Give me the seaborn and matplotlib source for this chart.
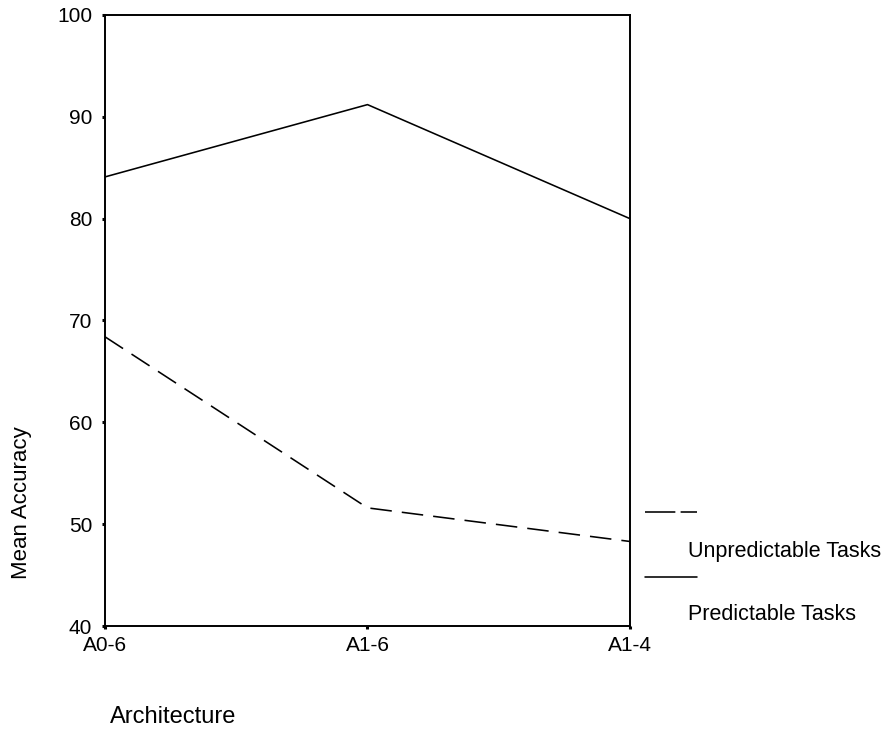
import matplotlib
matplotlib.use("Agg")
import matplotlib.pyplot as plt
from matplotlib.lines import Line2D
import seaborn as sns
import pandas as pd

architectures = ["A0-6", "A1-6", "A1-4"]
unpredictable = [68.4, 51.6, 48.3]
predictable = [84.1, 91.2, 80.0]
series_names = ["Unpredictable Tasks", "Predictable Tasks"]
y_ticks = [40, 50, 60, 70, 80, 90, 100]

sns.set_theme(style="white")
plt.rcParams['font.family'] = ['Liberation Sans', 'DejaVu Sans']
plt.rcParams['text.color'] = 'black'

df = pd.DataFrame({
    "Architecture": architectures * 2,
    "Mean Accuracy": unpredictable + predictable,
    "Task": [series_names[0]] * 3 + [series_names[1]] * 3,
})

fig = plt.figure(figsize=(8.87, 7.29), dpi=100)
ax = fig.add_axes([105/887, 1 - 626/729, (630-105)/887, (626-15)/729])

dash_map = {series_names[0]: (13.5, 6.3), series_names[1]: ""}
sns.lineplot(data=df, x="Architecture", y="Mean Accuracy", style="Task",
             dashes=dash_map, color="black", linewidth=1.15, legend=False,
             ax=ax, sort=False)

ax.set_xlim(0, len(architectures) - 1)
ax.set_ylim(40, 100)
ax.set_yticks(y_ticks)
ax.set_xticks(range(len(architectures)))
ax.set_xticklabels(architectures)
ax.set_xlabel("")
ax.set_ylabel("")
for s in ax.spines.values():
    s.set_visible(True)
    s.set_color("black")
    s.set_linewidth(1.4)
ax.tick_params(axis="both", direction="out", length=2.2, width=2.2,
               colors="black", labelcolor="black", labelsize=15,
               left=True, bottom=True)
ax.tick_params(axis="y", pad=7)
ax.tick_params(axis="x", pad=5)

# axis titles
fig.text(22/887, 1 - 503/729, "Mean Accuracy", rotation=90, ha="center",
         va="center", fontsize=16, color="black")
fig.text(110/887, 1 - 723/729, "Architecture", ha="left", va="baseline",
         fontsize=17, color="black")

# legend (label below its line sample)
fig.add_artist(Line2D([645/887, 697/887], [1 - 512/729, 1 - 512/729],
                      color="black", linewidth=1.15, dashes=(19, 3.3)))
fig.text(688/887, 1 - 552/729, series_names[0], ha="left", va="center",
         fontsize=15.5, color="black")
fig.add_artist(Line2D([645/887, 697/887], [1 - 577/729, 1 - 577/729],
                      color="black", linewidth=1.15))
fig.text(688/887, 1 - 614/729, series_names[1], ha="left", va="center",
         fontsize=15.5, color="black")

fig.savefig("out.png", dpi=100, facecolor="white")
